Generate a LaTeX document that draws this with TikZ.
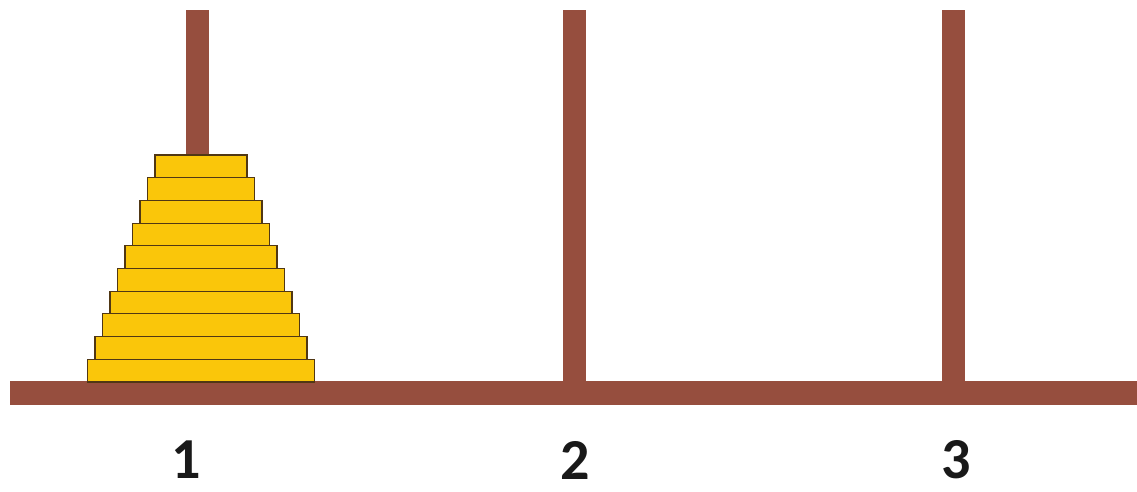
\documentclass[tikz,border=0pt]{standalone}
\usepackage{fontspec}
\setmainfont{Carlito}
\definecolor{wood}{RGB}{150,78,62}
\definecolor{gold}{RGB}{250,198,10}
\definecolor{rim}{RGB}{80,55,20}
\tikzset{
  pegbox/.style={rectangle, fill=wood, draw=none, inner sep=0pt, outer sep=0pt},
  diskbox/.style={rectangle, fill=gold, draw=rim, line width=1.1pt, inner sep=0pt, outer sep=0pt, minimum height=22.7pt},
  numlabel/.style={font=\bfseries\fontsize{58}{58}\selectfont, text=black!90, inner sep=0pt}
}
\begin{document}
\begin{tikzpicture}[x=1pt,y=-1pt]
\useasboundingbox (0,0) rectangle (1137,491);
% pegs
\node[pegbox, minimum width=23pt, minimum height=372pt] (peg1) at (197.5,196) {};
\node[pegbox, minimum width=23pt, minimum height=372pt] (peg2) at (574.5,196) {};
\node[pegbox, minimum width=23pt, minimum height=372pt] (peg3) at (953.5,196) {};
% base
\node[pegbox, minimum width=1127pt, minimum height=24pt] (base) at (573.5,393) {};
% disks
\foreach \i in {0,...,9}{
  \pgfmathsetmacro{\w}{92+15*\i}
  \pgfmathsetmacro{\yc}{155+22.7*\i+11.35}
  \node[diskbox, minimum width=\w pt] (disk\i) at (201,\yc) {};
}
% labels
\node[numlabel] (l1) at (186,460) {1};
\node[numlabel] (l2) at (575,460) {2};
\node[numlabel] (l3) at (956,460) {3};
\end{tikzpicture}
\end{document}
